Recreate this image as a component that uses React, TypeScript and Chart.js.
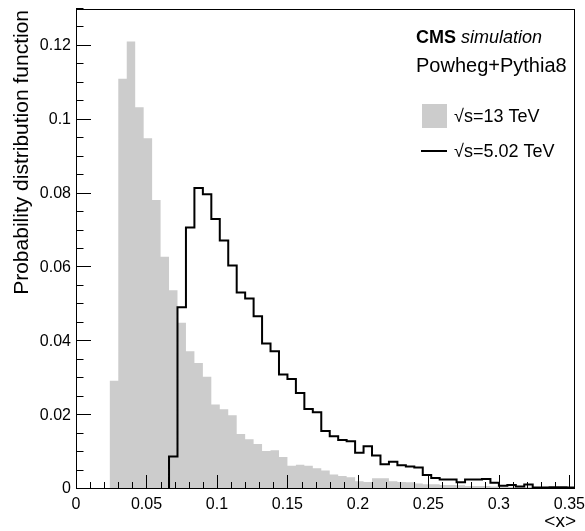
import { useEffect, useRef } from "react";
import { Chart, registerables } from "chart.js";

Chart.register(...registerables);

// Histogram binning (59 bins of width 0.006 from 0 to 0.354)
const BIN_WIDTH = 0.006;
const X_MIN = 0;
const X_MAX = 0.354;
const Y_MIN = 0;
const Y_MAX = 0.13;

// sqrt(s) = 13 TeV (grey filled)
const values13TeV = [
  0, 0, 0, 0, 0.0293, 0.1111, 0.1212, 0.1034, 0.095, 0.0783,
  0.0629, 0.0538, 0.045, 0.0373, 0.0341, 0.0304, 0.0229, 0.0216, 0.02, 0.0149,
  0.0135, 0.0122, 0.0103, 0.0105, 0.0087, 0.0063, 0.0066, 0.0063, 0.0056, 0.005,
  0.0039, 0.0035, 0.0032, 0.0021, 0.0019, 0.0029, 0.0029, 0.0021, 0.0019, 0.0018,
  0.0015, 0.0013, 0.0013, 0.0011, 0.0011, 0.001, 0.0008, 0.0008, 0.0008, 0.0007,
  0.0007, 0.0006, 0.0006, 0.0006, 0.0005, 0.0006, 0.0005, 0.0005, 0.0004,
];

// sqrt(s) = 5.02 TeV (black line)
const values502TeV = [
  0, 0, 0, 0, 0, 0, 0, 0, 0, 0,
  0, 0.0088, 0.0492, 0.0708, 0.0815, 0.0798, 0.0731, 0.0673, 0.0605, 0.0532,
  0.0516, 0.0468, 0.0394, 0.0373, 0.031, 0.0298, 0.026, 0.0217, 0.0208, 0.0157,
  0.0143, 0.0133, 0.0129, 0.0098, 0.0116, 0.0091, 0.0067, 0.0074, 0.0064, 0.0061,
  0.0058, 0.0038, 0.003, 0.0026, 0.0026, 0.0018, 0.0026, 0.0026, 0.0027, 0.0017,
  0.0009, 0.0011, 0.0007, 0.0012, 0.0004, 0.0004, 0.0005, 0.0005, 0.0004,
];

const xTicks = [0, 0.05, 0.1, 0.15, 0.2, 0.25, 0.3, 0.35];
const yTicks = [0, 0.02, 0.04, 0.06, 0.08, 0.1, 0.12];
const X_MINOR_STEP = 0.01;
const Y_MINOR_STEP = 0.005;

const FONT = '"Liberation Sans", Arial, Helvetica, sans-serif';

// point i sits at the bin's upper edge and carries the previous bin's value
function toSteps(vals: number[]) {
  const pts: { x: number; y: number }[] = [];
  for (let i = 0; i <= vals.length; i++) {
    pts.push({ x: +(i * BIN_WIDTH).toFixed(4), y: vals[Math.min(i, vals.length - 1)] });
  }
  return pts;
}

const fmt = (v: number) => String(+v.toFixed(3));

const framePlugin = {
  id: "rootFrame",
  afterDraw(chart: any) {
    const ctx = chart.ctx;
    const a = chart.chartArea;
    const xs = chart.scales.x;
    const ys = chart.scales.y;
    ctx.save();
    ctx.strokeStyle = "#000";
    ctx.lineWidth = 1;
    const L = Math.round(a.left);
    const T = Math.round(a.top);
    const R = Math.round(a.right);
    const B = Math.round(a.bottom);
    ctx.strokeRect(L + 0.5, T + 0.5, R - L - 1, B - T - 1);
    ctx.beginPath();
    for (let k = 0; k < 1000; k++) {
      const v = Y_MIN + k * Y_MINOR_STEP;
      if (v > Y_MAX + 1e-9) break;
      const major = yTicks.some((t) => Math.abs(t - v) < 1e-9);
      const py = Math.round(ys.getPixelForValue(v)) - 0.5;
      ctx.moveTo(L, py);
      ctx.lineTo(L + (major ? 15 : 7.5), py);
    }
    for (let k = 0; k < 1000; k++) {
      const v = X_MIN + k * X_MINOR_STEP;
      if (v > X_MAX + 1e-9) break;
      const major = xTicks.some((t) => Math.abs(t - v) < 1e-9);
      const px = Math.round(xs.getPixelForValue(v)) + 0.5;
      ctx.moveTo(px, B);
      ctx.lineTo(px, B - (major ? 14 : 7));
    }
    ctx.stroke();

    ctx.fillStyle = "#000";
    // axis titles
    ctx.save();
    ctx.translate(22, T + 1);
    ctx.rotate(-Math.PI / 2);
    ctx.font = `21px ${FONT}`;
    ctx.textAlign = "right";
    ctx.textBaseline = "middle";
    ctx.fillText("Probability distribution function", 0, 0);
    ctx.restore();

    ctx.font = `19px ${FONT}`;
    ctx.textAlign = "right";
    ctx.textBaseline = "middle";
    ctx.fillText("<x>", 576, 522);

    // labels
    ctx.textAlign = "left";
    ctx.font = `bold 18px ${FONT}`;
    ctx.fillText("CMS", 416, 38);
    const w = ctx.measureText("CMS ").width;
    ctx.font = `italic 18px ${FONT}`;
    ctx.fillText("simulation", 416 + w, 38);
    ctx.font = `20px ${FONT}`;
    ctx.fillText("Powheg+Pythia8", 416, 66);

    // legend
    ctx.fillStyle = "#cccccc";
    ctx.fillRect(422, 104, 25, 24);
    ctx.strokeStyle = "#000";
    ctx.lineWidth = 2;
    ctx.beginPath();
    ctx.moveTo(421, 151);
    ctx.lineTo(447, 151);
    ctx.stroke();
    ctx.fillStyle = "#000";
    ctx.font = `18px ${FONT}`;
    ctx.fillText("\u221As=13 TeV", 454, 117);
    ctx.fillText("\u221As=5.02 TeV", 454, 152);
    ctx.restore();
  },
};

export default function App() {
  const ref = useRef<HTMLCanvasElement | null>(null);
  useEffect(() => {
    if (!ref.current) return;
    const chart = new Chart(ref.current, {
      type: "line",
      data: {
        datasets: [
          {
            label: "13 TeV",
            data: toSteps(values13TeV),
            stepped: "before",
            fill: "origin",
            backgroundColor: "#cccccc",
            borderColor: "rgba(0,0,0,0)",
            borderWidth: 0,
            pointRadius: 0,
            order: 2,
          },
          {
            label: "5.02 TeV",
            data: toSteps(values502TeV),
            stepped: "before",
            fill: false,
            borderColor: "#000",
            borderWidth: 2,
            borderJoinStyle: "miter",
            borderCapStyle: "butt",
            pointRadius: 0,
            order: 1,
          },
        ],
      } as any,
      options: {
        animation: false,
        responsive: false,
        maintainAspectRatio: false,
        layout: { padding: { left: 8, top: 9, right: 10, bottom: 0 } },
        plugins: { legend: { display: false }, tooltip: { enabled: false } },
        scales: {
          x: {
            type: "linear",
            min: X_MIN,
            max: X_MAX,
            grid: { display: false, drawTicks: false },
            border: { display: false },
            afterBuildTicks: (s: any) => {
              s.ticks = xTicks.map((v) => ({ value: v }));
            },
            afterFit: (s: any) => {
              s.height = 42;
              s.paddingLeft = 0;
              s.paddingRight = 0;
            },
            ticks: {
              autoSkip: false,
              maxRotation: 0,
              padding: 6,
              color: "#000",
              font: { family: FONT, size: 16 },
              callback: (v: any) => fmt(Number(v)),
            },
          },
          y: {
            type: "linear",
            min: Y_MIN,
            max: Y_MAX,
            grid: { display: false, drawTicks: false },
            border: { display: false },
            afterBuildTicks: (s: any) => {
              s.ticks = yTicks.map((v) => ({ value: v }));
            },
            afterFit: (s: any) => {
              s.width = 68;
              s.paddingTop = 0;
              s.paddingBottom = 0;
            },
            ticks: {
              autoSkip: false,
              padding: 5,
              color: "#000",
              font: { family: FONT, size: 16 },
              callback: (v: any) => fmt(Number(v)),
            },
          },
        },
      },
      plugins: [framePlugin],
    });
    return () => chart.destroy();
  }, []);
  return (
    <div style={{ position: "absolute", left: 0, top: 0, width: 585, height: 531 }}>
      <canvas ref={ref} width={585} height={531} style={{ width: 585, height: 531 }} />
    </div>
  );
}
